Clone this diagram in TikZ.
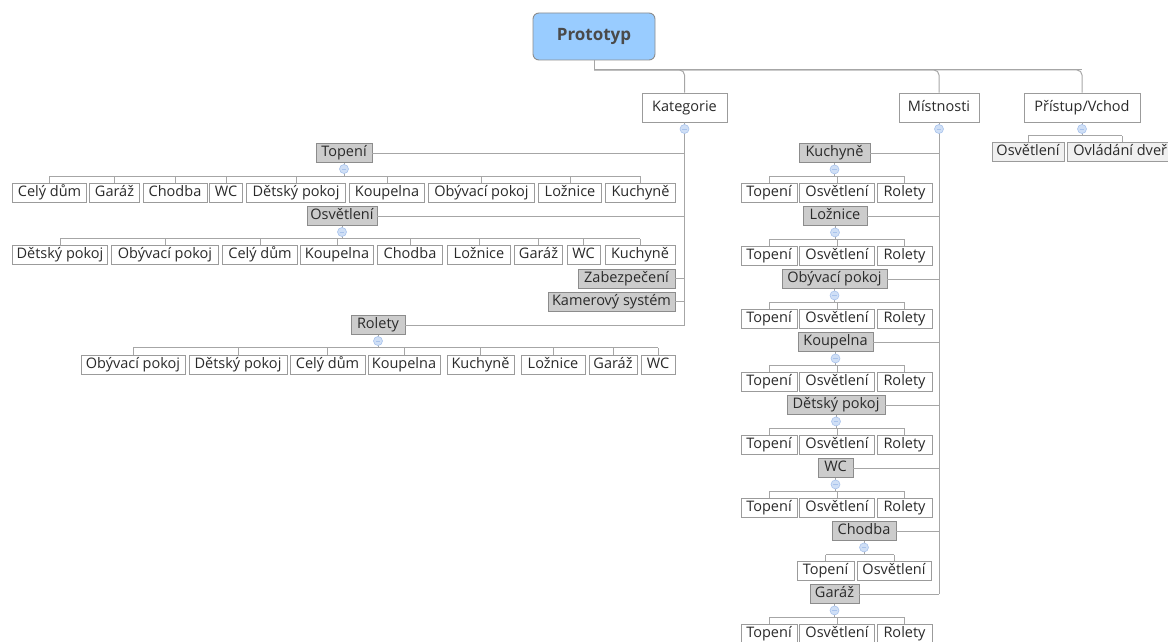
\documentclass[tikz,border=0pt]{standalone}
\usepackage{fontspec}
\setmainfont{Open Sans}
\definecolor{linec}{HTML}{A6A6A6}
\definecolor{leafb}{HTML}{9B9B9B}
\definecolor{gfill}{HTML}{CCCCCC}
\definecolor{gbord}{HTML}{8C8C8C}
\definecolor{textc}{HTML}{2A2A2A}
\definecolor{protof}{HTML}{99CCFF}
\definecolor{pfill}{HTML}{F0F0F0}
\definecolor{collf}{HTML}{CFDFF6}
\definecolor{collb}{HTML}{A9C3EC}
\tikzset{
  conn/.style={draw=linec, line width=1pt},
  leaf/.style={draw=leafb, fill=white, line width=0.9pt, minimum height=19, inner sep=0, text height=10.3, text depth=3.2, text=textc, font=\fontsize{14.5}{16}\selectfont},
  grp/.style={leaf, draw=gbord, fill=gfill},
  pleaf/.style={leaf, fill=pfill},
  top/.style={leaf, minimum height=29, text height=10.5, text depth=3.5, font=\fontsize{14.5}{17}\selectfont},
  coll/.style={circle, draw=collb, fill=collf, line width=0.6pt, minimum size=9, inner sep=0,
    path picture={\draw[collb, line width=0.7pt] ([xshift=-2.2]path picture bounding box.center) -- ([xshift=2.2]path picture bounding box.center);}},
}
\begin{document}
\begin{tikzpicture}[x=1pt,y=-1pt]
\useasboundingbox (0,0) rectangle (1168,642);
% root and first level
\node[draw=gbord, fill=protof, rounded corners=6, line width=0.9pt, minimum width=122, minimum height=47, inner sep=0, text=textc!85, font=\fontsize{17}{19}\selectfont\bfseries] (proto) at (594,36.5) {Prototyp};
\node[top, minimum width=85] (kat) at (684.5,107.5) {Kategorie};
\node[top, minimum width=80] (mist) at (939,107.5) {Místnosti};
\node[top, minimum width=116] (pri) at (1082,107.5) {Přístup/Vchod};
\coordinate (rb) at (594,70);
\draw[conn] (proto.south) -- (rb) -- (rb -| pri.north);
\foreach \n in {kat,mist,pri} \draw[conn, rounded corners=5] (rb) -| (\n.north);

% ---------- Kategorie ----------
\node[grp, minimum width=56] (kto) at (344,153) {Topení};
\node[grp, minimum width=70] (kos) at (342,216) {Osvětlení};
\node[grp, minimum width=97] (kza) at (626.5,278.5) {Zabezpečení};
\node[grp, minimum width=127] (kka) at (611.5,301.5) {Kamerový systém};
\node[grp, minimum width=54] (kro) at (378,325) {Rolety};
\draw[conn] (kat.south) -- (kat.south |- kro.east);
\foreach \n in {kto,kos,kza,kka,kro} \draw[conn] (\n.east) -- (\n.east -| kat.south);

% Topení children
\node[leaf, minimum width=74] (a1) at (49.5,192.5) {Celý dům};
\node[leaf, minimum width=50] (a2) at (114.5,192.5) {Garáž};
\node[leaf, minimum width=64] (a3) at (175,192.5) {Chodba};
\node[leaf, minimum width=33] (a4) at (226,192.5) {WC};
\node[leaf, minimum width=99] (a5) at (296,192.5) {Dětský pokoj};
\node[leaf, minimum width=75] (a6) at (387,192.5) {Koupelna};
\node[leaf, minimum width=106] (a7) at (481.5,192.5) {Obývací pokoj};
\node[leaf, minimum width=63] (a8) at (570,192.5) {Ložnice};
\node[leaf, minimum width=70] (a9) at (640.5,192.5) {Kuchyně};
\coordinate (ab) at (0,176);
\draw[conn] (kto.south) -- (kto.south |- ab);
\draw[conn] (a1.north |- ab) -- (a9.north |- ab);
\foreach \n in {a1,a2,a3,a4,a5,a6,a7,a8,a9} \draw[conn] (\n.north) -- (\n.north |- ab);
\node[coll] (ac) at (344,169) {};

% Osvětlení children
\node[leaf, minimum width=95] (b1) at (60,254.5) {Dětský pokoj};
\node[leaf, minimum width=107] (b2) at (165,254.5) {Obývací pokoj};
\node[leaf, minimum width=75] (b3) at (260,254.5) {Celý dům};
\node[leaf, minimum width=73] (b4) at (337,254.5) {Koupelna};
\node[leaf, minimum width=65] (b5) at (410,254.5) {Chodba};
\node[leaf, minimum width=63] (b6) at (479,254.5) {Ložnice};
\node[leaf, minimum width=48] (b7) at (538.5,254.5) {Garáž};
\node[leaf, minimum width=33] (b8) at (583.5,254.5) {WC};
\node[leaf, minimum width=70] (b9) at (640,254.5) {Kuchyně};
\coordinate (bb) at (0,238.5);
\draw[conn] (kos.south) -- (kos.south |- bb);
\draw[conn] (b1.north |- bb) -- (b9.north |- bb);
\foreach \n in {b1,b2,b3,b4,b5,b6,b7,b8,b9} \draw[conn] (\n.north) -- (\n.north |- bb);
\node[coll] (bc) at (342,232) {};

% Rolety children
\node[leaf, minimum width=104] (c1) at (133,365) {Obývací pokoj};
\node[leaf, minimum width=98] (c2) at (238,365) {Dětský pokoj};
\node[leaf, minimum width=75] (c3) at (327.5,365) {Celý dům};
\node[leaf, minimum width=72] (c4) at (404,365) {Koupelna};
\node[leaf, minimum width=67] (c5) at (480.5,365) {Kuchyně};
\node[leaf, minimum width=64] (c6) at (553,365) {Ložnice};
\node[leaf, minimum width=48] (c7) at (613,365) {Garáž};
\node[leaf, minimum width=34] (c8) at (658,365) {WC};
\coordinate (cb) at (0,347.5);
\draw[conn] (kro.south) -- (kro.south |- cb);
\draw[conn] (c1.north |- cb) -- (c8.north |- cb);
\foreach \n in {c1,c2,c3,c4,c5,c6,c7,c8} \draw[conn] (\n.north) -- (\n.north |- cb);
\node[coll] (cc) at (378,341) {};

\node[coll] (katc) at (684.5,129) {};

% ---------- Místnosti ----------
\node[grp, minimum width=71] (m1) at (834.5,153) {Kuchyně};
\node[grp, minimum width=64] (m2) at (835,216) {Ložnice};
\node[grp, minimum width=105] (m3) at (834.5,279) {Obývací pokoj};
\node[grp, minimum width=75] (m4) at (835.5,342) {Koupelna};
\node[grp, minimum width=98] (m5) at (836,405) {Dětský pokoj};
\node[grp, minimum width=35] (m6) at (835.5,468) {WC};
\node[grp, minimum width=64] (m7) at (864,531) {Chodba};
\node[grp, minimum width=49] (m8) at (834.5,594) {Garáž};
\draw[conn] (mist.south) -- (mist.south |- m8.east);
\foreach \n in {m1,m2,m3,m4,m5,m6,m7,m8} \draw[conn] (\n.east) -- (\n.east -| mist.south);

\foreach \g/\yy in {1/193,2/256,3/319,4/382,5/445,6/508,8/634} {
  \node[leaf, minimum width=56] (m\g t) at (769,\yy) {Topení};
  \node[leaf, minimum width=75] (m\g o) at (837,\yy) {Osvětlení};
  \node[leaf, minimum width=55] (m\g r) at (904.5,\yy) {Rolety};
  \coordinate (m\g b) at (0,\yy-16.5);
  \draw[conn] (m\g.south) -- (m\g.south |- m\g b);
  \draw[conn] (m\g t.north |- m\g b) -- (m\g r.north |- m\g b);
  \foreach \n in {m\g t,m\g o,m\g r} \draw[conn] (\n.north) -- (\n.north |- m\g b);
  \node[coll] (m\g c) at ([yshift=-6.5]m\g.south) {};
}
% Chodba children
\node[leaf, minimum width=57] (m7t) at (825.5,571) {Topení};
\node[leaf, minimum width=74] (m7o) at (894,571) {Osvětlení};
\coordinate (m7b) at (0,554.5);
\draw[conn] (m7.south) -- (m7.south |- m7b);
\draw[conn] (m7t.north |- m7b) -- (m7o.north |- m7b);
\foreach \n in {m7t,m7o} \draw[conn] (\n.north) -- (\n.north |- m7b);
\node[coll] (m7c) at ([yshift=-6.5]m7.south) {};

\node[coll] (mistc) at (939,129) {};

% ---------- Přístup/Vchod ----------
\node[pleaf, minimum width=72] (p1) at (1028,151.5) {Osvětlení};
\node[pleaf, minimum width=110] (p2) at (1122,151.5) {Ovládání dveří};
\coordinate (pb) at (0,135.5);
\draw[conn] (pri.south) -- (pri.south |- pb);
\draw[conn] (p1.north |- pb) -- (p2.north |- pb);
\foreach \n in {p1,p2} \draw[conn] (\n.north) -- (\n.north |- pb);
\node[coll] (pric) at (1082,129) {};
\end{tikzpicture}
\end{document}
